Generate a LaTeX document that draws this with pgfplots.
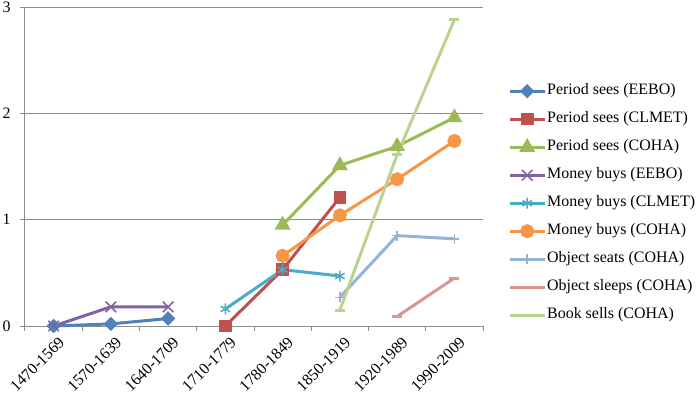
\documentclass[border=0pt]{standalone}
\usepackage{fontspec}
\setmainfont{Liberation Serif}
\usepackage{pgfplots}
\pgfplotsset{compat=1.18}
\definecolor{cblue}{HTML}{4F81BD}
\definecolor{cred}{HTML}{C0504D}
\definecolor{cgreen}{HTML}{9BBB59}
\definecolor{cpurple}{HTML}{8064A2}
\definecolor{ccyan}{HTML}{4BACC6}
\definecolor{corange}{HTML}{F79646}
\definecolor{clblue}{HTML}{95B3D7}
\definecolor{cpink}{HTML}{D99694}
\definecolor{clgreen}{HTML}{BBD38F}
\definecolor{gridgray}{HTML}{8C8C8C}
\begin{document}
\begin{tikzpicture}
\useasboundingbox (-25bp,-71bp) rectangle (675bp,326bp);
\begin{axis}[
  scale only axis, width=458bp, height=319bp,
  xmin=-0.5, xmax=7.5, ymin=0, ymax=3,
  clip=false,
  axis lines*=left,
  axis line style={draw=gridgray, line width=1bp, -},
  tick align=outside,
  major tick length=5bp,
  tick style={draw=gridgray, line width=1bp},
  ytick={0,1,2,3},
  ymajorgrids,
  grid style={draw=gridgray, line width=1bp},
  xtick={-0.5,0.5,1.5,2.5,3.5,4.5,5.5,6.5,7.5},
  xticklabels={},
  extra x ticks={0,1,2,3,4,5,6,7},
  extra x tick labels={1470-1569,1570-1639,1640-1709,1710-1779,1780-1849,1850-1919,1920-1989,1990-2009},
  extra x tick style={major tick length=0pt, grid=none,
    tick label style={rotate=45, anchor=north east, inner sep=1bp, xshift=-3bp, yshift=-9bp}},
  /pgf/number format/assume math mode=true,
  tick label style={font=\fontsize{16}{19}\selectfont},
  y tick label style={xshift=-6bp},
  every axis plot/.append style={line width=3bp},
  legend cell align=left,
  legend style={at={(1.0546,0.385)}, anchor=west, draw=none, fill=none,
    inner sep=0pt, row sep=10bp,
    font=\fontsize{16}{19}\selectfont,
    nodes={inner sep=1bp, text height=11.5bp, text depth=4.5bp}},
  legend image code/.code={\draw[mark repeat=2,mark phase=2,yshift=0bp] plot coordinates {(0bp,0bp)(17.5bp,0bp)(35bp,0bp)};},
]
\addplot[cblue, mark=square*, mark size=3.6bp, mark options={rotate=45, solid}] coordinates {(0,0)(1,0.02)(2,0.07)};
\addlegendentry{Period sees (EEBO)}
\addplot[cred, mark=square*, mark size=4.8bp] coordinates {(3,0)(4,0.53)(5,1.21)};
\addlegendentry{Period sees (CLMET)}
\addplot[cgreen, mark=triangle*, mark size=6.2bp] coordinates {(4,0.95)(5,1.51)(6,1.69)(7,1.96)};
\addlegendentry{Period sees (COHA)}
\addplot[cpurple, mark=x, mark size=7.5bp, mark options={line width=1.5bp}] coordinates {(0,0)(1,0.18)(2,0.18)};
\addlegendentry{Money buys (EEBO)}
\addplot[ccyan, mark=asterisk, mark size=5.5bp, mark options={line width=1.5bp}] coordinates {(3,0.16)(4,0.53)(5,0.47)};
\addlegendentry{Money buys (CLMET)}
\addplot[corange, mark=*, mark size=5.5bp] coordinates {(4,0.66)(5,1.04)(6,1.38)(7,1.74)};
\addlegendentry{Money buys (COHA)}
\addplot[clblue, mark=+, mark size=5bp, mark options={line width=1.5bp}] coordinates {(5,0.27)(6,0.85)(7,0.82)};
\addlegendentry{Object seats (COHA)}
\addplot[cpink, mark=-, mark size=5bp] coordinates {(6,0.09)(7,0.45)};
\addlegendentry{Object sleeps (COHA)}
\addplot[clgreen, mark=-, mark size=5bp] coordinates {(5,0.15)(6,1.61)(7,2.88)};
\addlegendentry{Book sells (COHA)}
\end{axis}
\end{tikzpicture}
\end{document}
